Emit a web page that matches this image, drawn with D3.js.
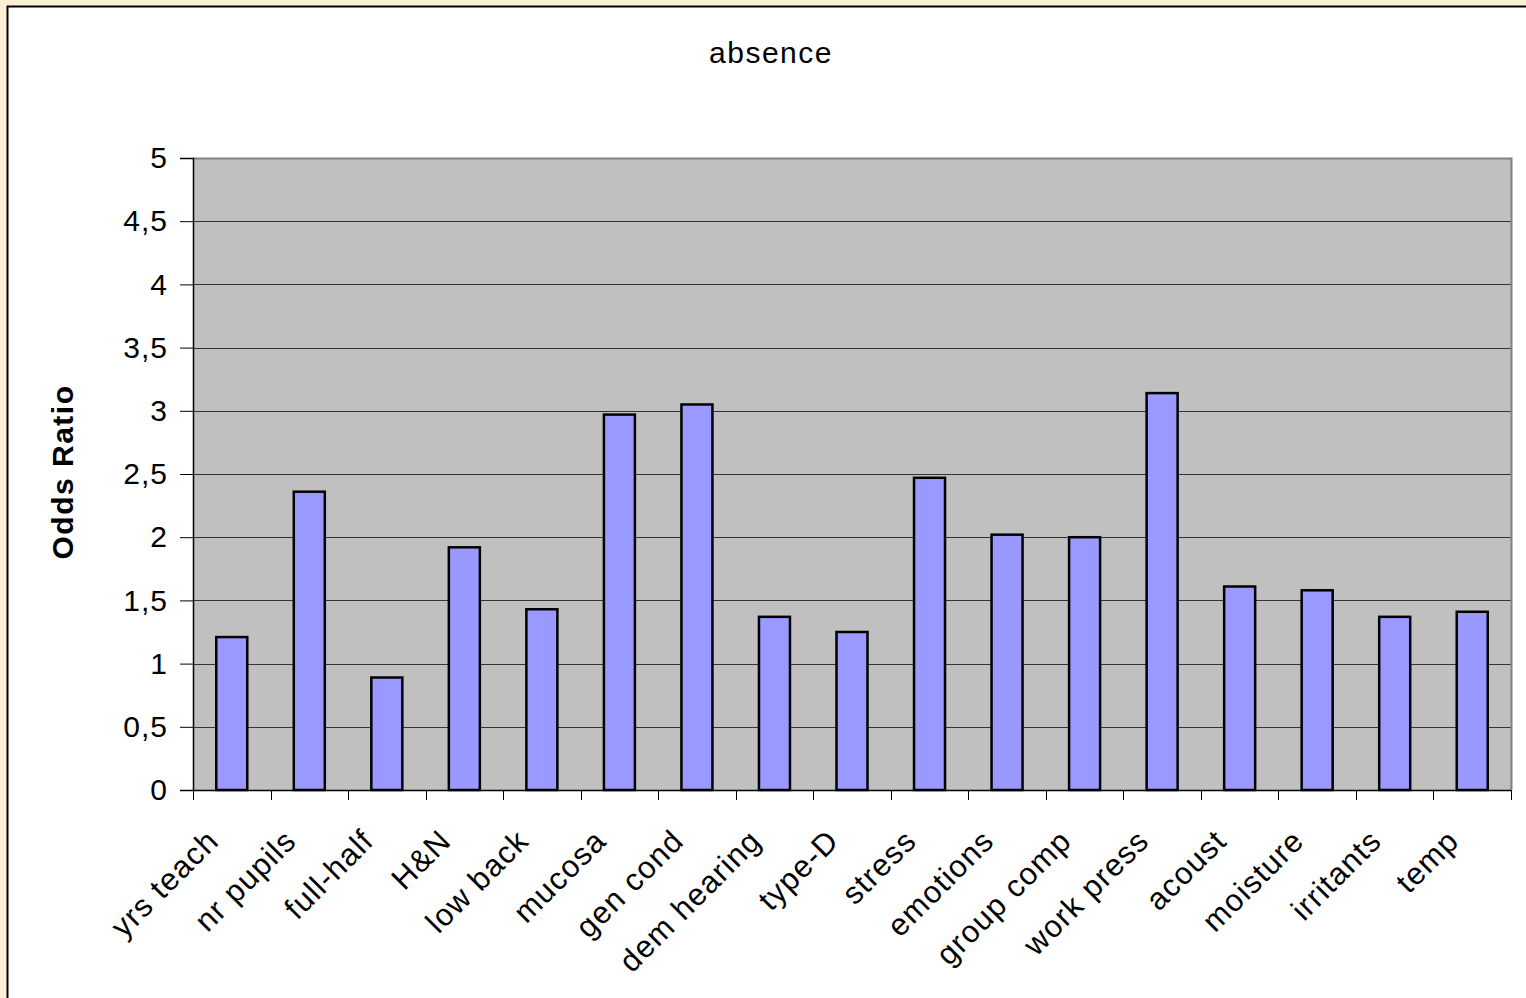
<!DOCTYPE html>
<html>
<head>
<meta charset="utf-8">
<script src="https://cdn.jsdelivr.net/npm/d3@7"></script>
<style>
  html, body { margin: 0; padding: 0; background: #fbf0d6; }
  svg { display: block; }
  text { font-family: "Liberation Sans", Arial, sans-serif; fill: #000; }
</style>
</head>
<body>
<svg id="chart" width="1526" height="998"></svg>
<script>
// Odds ratios of absence per factor
const categories = ["yrs teach", "nr pupils", "full-half", "H&N", "low back", "mucosa",
  "gen cond", "dem hearing", "type-D", "stress", "emotions", "group comp",
  "work press", "acoust", "moisture", "irritants", "temp"];
const oddsRatio = [1.21, 2.36, 0.89, 1.92, 1.43, 2.97, 3.05, 1.37, 1.25, 2.47,
  2.02, 2.00, 3.14, 1.61, 1.58, 1.37, 1.41];
const yTicks = [0, 0.5, 1, 1.5, 2, 2.5, 3, 3.5, 4, 4.5, 5];
const chartTitle = "absence";
const yTitle = "Odds Ratio";

const FONT = 30;
const SPACING = "1.5px";

const svg = d3.select("#chart");

// chart frame (white area with black border)
svg.append("rect")
  .attr("x", 7.5).attr("y", 6.5)
  .attr("width", 1540).attr("height", 1010)
  .attr("fill", "#fff").attr("stroke", "#000").attr("stroke-width", 2);

const plot = { left: 193, top: 158, right: 1511, bottom: 790 };

const x = d3.scaleBand().domain(categories)
  .range([plot.left, plot.right]).paddingInner(0.6).paddingOuter(0.3);
const xOuter = d3.scaleBand().domain(categories).range([plot.left, plot.right]);
const y = d3.scaleLinear().domain([0, 5]).range([plot.bottom, plot.top]);

// plot area
svg.append("rect")
  .attr("x", plot.left).attr("y", plot.top)
  .attr("width", plot.right - plot.left).attr("height", plot.bottom - plot.top)
  .attr("fill", "#c0c0c0");

// gridlines
svg.append("g").selectAll("line").data(yTicks.filter(d => d > 0 && d < 5)).join("line")
  .attr("x1", plot.left).attr("x2", plot.right)
  .attr("y1", d => Math.round(y(d)) + 0.5).attr("y2", d => Math.round(y(d)) + 0.5)
  .attr("stroke", "#333").attr("stroke-width", 1);

// top and right plot border
svg.append("path")
  .attr("d", `M${plot.left},${plot.top + 0.5}H${plot.right + 0.5}V${plot.bottom}`)
  .attr("fill", "none").attr("stroke", "#808080").attr("stroke-width", 2);

// bars
svg.append("g").selectAll("rect").data(categories).join("rect")
  .attr("x", d => x(d))
  .attr("y", (d, i) => y(oddsRatio[i]))
  .attr("width", x.bandwidth())
  .attr("height", (d, i) => plot.bottom - y(oddsRatio[i]))
  .attr("fill", "#9999ff").attr("stroke", "#000").attr("stroke-width", 2.5);

// y axis
const yAxis = d3.axisLeft(y).tickValues(yTicks).tickSize(13).tickPadding(12)
  .tickFormat(d => String(d).replace(".", ","));
const gy = svg.append("g").attr("transform", `translate(${plot.left},0)`).call(yAxis);
gy.select(".domain").attr("stroke", "#000").attr("stroke-width", 1.5);
gy.selectAll(".tick line").attr("stroke", "#000");
gy.selectAll("text").attr("font-size", FONT).attr("fill", "#000")
  .style("letter-spacing", "1px")
  .style("font-family", "'Liberation Sans', Arial, sans-serif");

// x axis with ticks between categories
const boundaries = categories.map(c => xOuter(c)).concat([plot.right]);
svg.append("line")
  .attr("x1", plot.left).attr("x2", plot.right)
  .attr("y1", plot.bottom + 0.5).attr("y2", plot.bottom + 0.5)
  .attr("stroke", "#000").attr("stroke-width", 1.5);
svg.append("g").selectAll("line").data(boundaries).join("line")
  .attr("x1", d => Math.round(d) + 0.5).attr("x2", d => Math.round(d) + 0.5)
  .attr("y1", plot.bottom).attr("y2", plot.bottom + 10)
  .attr("stroke", "#000");

// category labels rotated -45°
svg.append("g").selectAll("text").data(categories).join("text")
  .attr("transform", d => `translate(${x(d) + x.bandwidth() / 2 - 19},${plot.bottom + 45}) rotate(-45)`)
  .attr("text-anchor", "end")
  .attr("dy", "0.35em")
  .attr("font-size", FONT + 1)
  .style("letter-spacing", "1.2px")
  .text(d => d);

// titles
svg.append("text")
  .attr("x", 771).attr("y", 63)
  .attr("text-anchor", "middle").attr("font-size", FONT)
  .style("letter-spacing", SPACING)
  .text(chartTitle);

svg.append("text")
  .attr("transform", `translate(73,472) rotate(-90)`)
  .attr("text-anchor", "middle").attr("font-size", FONT).attr("font-weight", "bold")
  .style("letter-spacing", SPACING)
  .text(yTitle);
</script>
</body>
</html>
